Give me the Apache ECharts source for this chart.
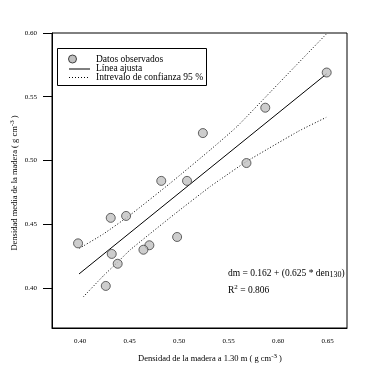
<!DOCTYPE html>
<html lang="es">
<head>
<meta charset="UTF-8">
<title>Densidad de la madera</title>
<script src="https://cdn.jsdelivr.net/npm/echarts@6/dist/echarts.min.js"></script>
<style>
  html, body { margin: 0; padding: 0; background: #fff; }
  #chart { width: 365px; height: 374px; }
</style>
</head>
<body>
<div id="chart"></div>
<script>
// datos
const denX = [0.398, 0.431, 0.4465, 0.482, 0.508, 0.568, 0.498, 0.470, 0.464, 0.432, 0.438, 0.426, 0.649, 0.587, 0.524];
const dmY = [0.435, 0.455, 0.4565, 0.484, 0.484, 0.498, 0.440, 0.4335, 0.430, 0.4267, 0.419, 0.4016, 0.569, 0.5414, 0.5215];

// linea ajustada (extremos)
const fitX = [0.399, 0.649];
const fitY = [0.411, 0.568];

// intervalo de confianza 95 %
const upperX = [0.3993, 0.4235, 0.4505, 0.4909, 0.5313, 0.5583, 0.5919, 0.6054, 0.6485];
const upperY = [0.4311, 0.4423, 0.4572, 0.4821, 0.5082, 0.5265, 0.5535, 0.5644, 0.5991];
const lowerX = [0.4033, 0.4235, 0.4377, 0.4505, 0.4955, 0.5313, 0.5414, 0.5677, 0.6206, 0.6485];
const lowerY = [0.3930, 0.4095, 0.4200, 0.4298, 0.4580, 0.4795, 0.4850, 0.4990, 0.5230, 0.5338];

const xTicks = [0.40, 0.45, 0.50, 0.55, 0.60, 0.65];
const yTicks = [0.40, 0.45, 0.50, 0.55, 0.60];

const font = 'Liberation Serif';
const zip = (a, b) => a.map((v, i) => [v, b[i]]);

const chart = echarts.init(document.getElementById('chart'));

// leyenda dibujada a mano (caja, simbolos, textos)
const legendX = 57.5, legendY = 48.5;
const legendRows = [59, 68.5, 77];
const legendText = ['Datos observados', 'Línea ajusta', 'Intrevalo de confianza 95 %'];

const legendGraphic = [
  {
    type: 'rect',
    shape: { x: legendX, y: legendY, width: 149, height: 37 },
    style: { fill: '#fff', stroke: '#000', lineWidth: 1 },
    z: 10
  },
  {
    type: 'circle',
    shape: { cx: 72.5, cy: legendRows[0], r: 4 },
    style: { fill: '#c0c0c0', stroke: '#404040', lineWidth: 1 },
    z: 11
  },
  {
    type: 'line',
    shape: { x1: 69, y1: legendRows[1] + 0.5, x2: 90, y2: legendRows[1] + 0.5 },
    style: { stroke: '#000', lineWidth: 1 },
    z: 11
  },
  {
    type: 'line',
    shape: { x1: 69, y1: legendRows[2] + 0.5, x2: 90, y2: legendRows[2] + 0.5 },
    style: { stroke: '#000', lineWidth: 1, lineDash: [1, 2] },
    z: 11
  }
].concat(legendText.map((t, i) => ({
  type: 'text', x: 96, y: legendRows[i],
  style: { text: t, font: '9.5px "Liberation Serif"', fill: '#000', verticalAlign: 'middle' },
  z: 11
})));

chart.setOption({
  animation: false,
  backgroundColor: '#fff',
  textStyle: { fontFamily: font, color: '#000' },
  grid: {
    left: 52, right: 18, top: 33, bottom: 46,
    show: true, borderColor: '#000', borderWidth: 1
  },
  xAxis: {
    type: 'value',
    min: 0.3717, max: 0.6695,
    splitLine: { show: false },
    axisLine: { lineStyle: { color: '#000' } },
    axisTick: { show: false, customValues: xTicks },
    axisLabel: {
      customValues: xTicks, margin: 10,
      fontSize: 7, fontFamily: font, color: '#000',
      formatter: v => v.toFixed(2)
    }
  },
  yAxis: {
    type: 'value',
    min: 0.3686, max: 0.60,
    splitLine: { show: false },
    axisLine: { lineStyle: { color: '#000' } },
    axisTick: { show: true, customValues: yTicks, length: 9, lineStyle: { color: '#000' } },
    axisLabel: {
      customValues: yTicks, margin: 15,
      fontSize: 7, fontFamily: font, color: '#000',
      formatter: v => v.toFixed(2)
    }
  },
  series: [
    {
      name: 'Datos observados',
      type: 'scatter',
      data: zip(denX, dmY),
      symbol: 'circle', symbolSize: 9,
      itemStyle: { color: '#c0c0c0', borderColor: '#404040', borderWidth: 1 },
      z: 5
    },
    {
      name: 'Línea ajusta',
      type: 'line',
      data: zip(fitX, fitY),
      symbol: 'none',
      lineStyle: { color: '#000', width: 1 }
    },
    {
      name: 'Intrevalo de confianza 95 %',
      type: 'line',
      data: zip(upperX, upperY),
      symbol: 'none', smooth: 0.15,
      lineStyle: { color: '#000', width: 1, type: [1, 2] }
    },
    {
      name: 'Intrevalo de confianza 95 %',
      type: 'line',
      data: zip(lowerX, lowerY),
      symbol: 'none', smooth: 0.15,
      lineStyle: { color: '#000', width: 1, type: [1, 2] }
    }
  ],
  graphic: legendGraphic.concat([
    {
      type: 'text', left: 228, top: 268,
      style: {
        text: 'dm = 0.162 + (0.625 * den{sub|130})',
        font: '9.5px "Liberation Serif"', fill: '#000',
        rich: { sub: { fontSize: 8, fontFamily: font, padding: [4, 0, 0, 0] } }
      }
    },
    {
      type: 'text', left: 228, top: 284,
      style: {
        text: 'R{sup|2} = 0.806',
        font: '9.5px "Liberation Serif"', fill: '#000',
        rich: { sup: { fontSize: 7, fontFamily: font, padding: [0, 0, 5, 0] } }
      }
    },
    {
      type: 'text', x: 210, y: 359,
      style: {
        text: 'Densidad de la madera a 1.30 m ( g cm{sup|-3} )',
        font: '8.5px "Liberation Serif"', fill: '#000',
        align: 'center', verticalAlign: 'middle',
        rich: { sup: { fontSize: 7, fontFamily: font, padding: [0, 0, 6, 0] } }
      }
    },
    {
      type: 'text', x: 15, y: 183, rotation: Math.PI / 2,
      style: {
        text: 'Densidad media de la madera ( g cm{sup|-3} )',
        font: '8.5px "Liberation Serif"', fill: '#000',
        align: 'center', verticalAlign: 'middle',
        rich: { sup: { fontSize: 7, fontFamily: font, padding: [0, 0, 6, 0] } }
      }
    }
  ])
});
</script>
</body>
</html>
